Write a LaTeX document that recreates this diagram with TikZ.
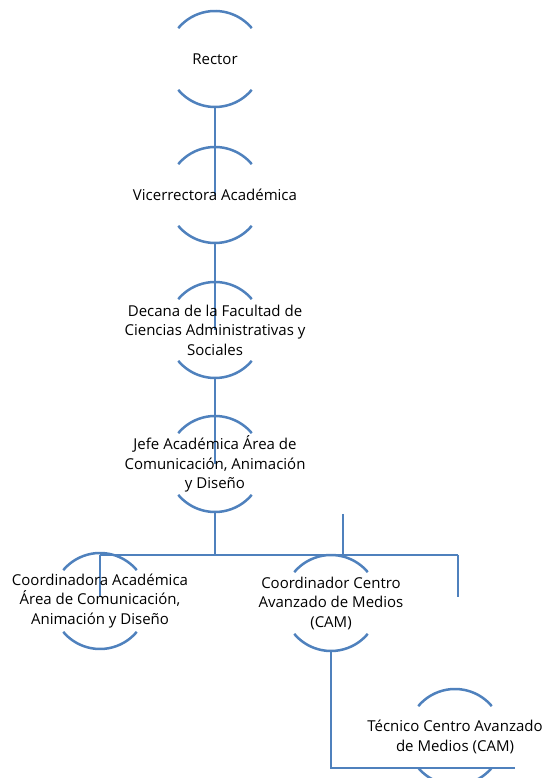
\documentclass[tikz,border=0pt]{standalone}
\usepackage{fontspec}
\setmainfont{Open Sans}
\usetikzlibrary{backgrounds}
\definecolor{lineblue}{RGB}{79,129,189}
\tikzset{
  conn/.style={lineblue,line width=2.5pt},
  ring/.style={lineblue,line width=2.5pt},
  post/.style={align=center,inner sep=0pt,font=\fontsize{15}{19.5}\selectfont}
}
\begin{document}
\begin{tikzpicture}[x=1pt,y=1pt]
  \useasboundingbox (0,0) rectangle (545,778);
  \node[post] (rector) at (215,719) {Rector};
  \node[post] (vice) at (215,583) {Vicerrectora Académica};
  \node[post] (decana) at (215,448) {Decana de la Facultad de\\Ciencias Administrativas y\\Sociales};
  \node[post] (jefe) at (215,314) {Jefe Académica Área de\\Comunicación, Animación\\y Diseño};
  \node[post] (coordA) at (100,177) {Coordinadora Académica\\Área de Comunicación,\\Animación y Diseño};
  \node[post] (coordC) at (331,175) {Coordinador Centro\\Avanzado de Medios\\(CAM)};
  \node[post] (tecnico) at (455,41) {Técnico Centro Avanzado\\de Medios (CAM)};
  \coordinate (barL) at (100,223);
  \coordinate (barR) at (458,223);
  \coordinate (stub) at (343,264);
  \coordinate (tecEnd) at (515,10);
  \begin{scope}[on background layer]
    \draw[conn] ([yshift=-48pt]rector.center) -- (vice.center);
    \draw[conn] ([yshift=-48pt]vice.center) -- (decana.center);
    \draw[conn] ([yshift=-48pt]decana.center) -- (jefe.center);
    \draw[conn] ([yshift=-48pt]jefe.center) -- (jefe.center |- barL);
    \draw[conn] (barL) -- (barR);
    \draw[conn] (barL) -- ([yshift=4pt]coordA.center);
    \draw[conn] (barR) -- ++(0,-42);
    \draw[conn] (stub) -- (stub |- barL);
    \draw[conn] ([yshift=-48pt]coordC.center) |- (tecEnd);
    \foreach \n in {rector,vice,decana,jefe,coordA,coordC,tecnico} {
      \draw[ring] ([shift={(40:48)}]\n.center) arc[start angle=40,end angle=140,radius=48];
      \draw[ring] ([shift={(220:48)}]\n.center) arc[start angle=220,end angle=320,radius=48];
    }
  \end{scope}
\end{tikzpicture}
\end{document}
